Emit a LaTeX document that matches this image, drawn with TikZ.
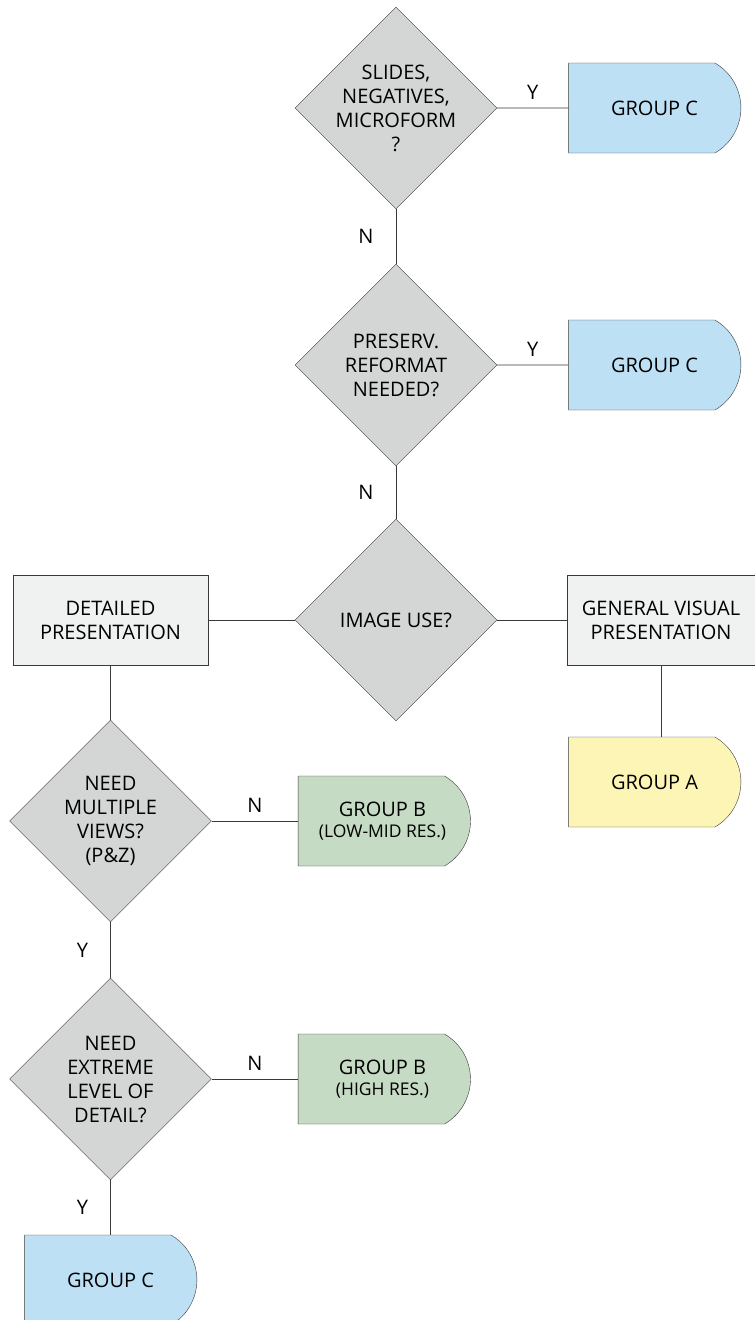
\documentclass[tikz,border=0pt]{standalone}
\usepackage{fontspec}
\setmainfont{Open Sans}
\usetikzlibrary{shapes.geometric,shapes.misc}
\definecolor{linegray}{HTML}{3A3A3A}
\definecolor{decgray}{HTML}{D4D5D5}
\definecolor{usegray}{HTML}{F0F1F1}
\definecolor{groupa}{HTML}{FDF5B6}
\definecolor{groupb}{HTML}{C6DBC3}
\definecolor{groupc}{HTML}{BEE0F4}
\newcommand{\DiaSize}{202pt}
\newcommand{\BoxWidth}{179pt}
\newcommand{\BoxHeight}{90pt}

\begin{document}
\begin{tikzpicture}[x=1pt,y=-1pt,
  every node/.style={font=\fontsize{20}{24}\selectfont,text=black},
  decision/.style={diamond,draw=linegray,fill=decgray,aspect=1,inner sep=-12pt,
    minimum width=\DiaSize,minimum height=\DiaSize,align=center},
  groupbox/.style={rounded rectangle,rounded rectangle west arc=none,
    rounded rectangle arc length=120,draw=linegray,
    minimum width=\BoxWidth,minimum height=\BoxHeight,align=center},
  usebox/.style={rectangle,draw=linegray,fill=usegray,minimum height=\BoxHeight,align=center},
  link/.style={draw=linegray,line width=0.9pt},
  answer/.style={font=\fontsize{20}{22}\selectfont,inner sep=2pt}]
\useasboundingbox (0,0) rectangle (755,1320);

\coordinate (P1) at (396,108);
\coordinate (P2) at (396,365);
\coordinate (P3) at (396,620);
\coordinate (P4) at (110.5,821);
\coordinate (P5) at (110.5,1079);

% decisions
\node[decision] (slides) at (P1) {SLIDES,\\NEGATIVES,\\MICROFORM\\?};
\node[decision] (reformat) at (P2) {PRESERV.\\REFORMAT\\NEEDED?};
\node[decision] (imageuse) at (P3) {IMAGE USE?};
\node[decision] (views) at (P4) {NEED\\MULTIPLE\\VIEWS?\\(P\&Z)};
\node[decision] (extreme) at (P5) {NEED\\EXTREME\\LEVEL OF\\DETAIL?};

% image use
\node[usebox,minimum width=195pt] (detailed) at (110.5,620) {DETAILED\\PRESENTATION};
\node[usebox,minimum width=188pt] (general) at (661,620) {GENERAL VISUAL\\PRESENTATION};

% groups
\node[groupbox,fill=groupc] (groupc1) at (654.5,108) {GROUP C};
\node[groupbox,fill=groupc] (groupc2) at (654.5,365) {GROUP C};
\node[groupbox,fill=groupa] (groupa) at (654.5,782) {GROUP A};
\node[groupbox,fill=groupb] (groupb1) at (382.5,821) {GROUP B\\[-3pt]{\fontsize{17.5}{20}\selectfont (LOW-MID RES.)}};
\node[groupbox,fill=groupb] (groupb2) at (382.5,1079) {GROUP B\\[-3pt]{\fontsize{17.5}{20}\selectfont (HIGH RES.)}};
\node[groupbox,fill=groupc] (groupc3) at (110.5,1280) {GROUP C};

% links
\draw[link] (slides) -- node[answer,above=6pt] (y1) {Y} (groupc1);
\draw[link] (slides) -- node[answer,left=20pt] (n1) {N} (reformat);
\draw[link] (reformat) -- node[answer,above=6pt] (y2) {Y} (groupc2);
\draw[link] (reformat) -- node[answer,left=20pt] (n2) {N} (imageuse);
\draw[link] (imageuse) -- (detailed);
\draw[link] (imageuse) -- (general);
\draw[link] (general.south) -- (general.south |- groupa.north);
\draw[link] (detailed) -- (views);
\draw[link] (views) -- node[answer,above=6pt] (n3) {N} (groupb1);
\draw[link] (views) -- node[answer,left=20pt] (y3) {Y} (extreme);
\draw[link] (extreme) -- node[answer,above=6pt] (n4) {N} (groupb2);
\draw[link] (extreme) -- node[answer,left=20pt] (y4) {Y} (groupc3);
\end{tikzpicture}
\end{document}
